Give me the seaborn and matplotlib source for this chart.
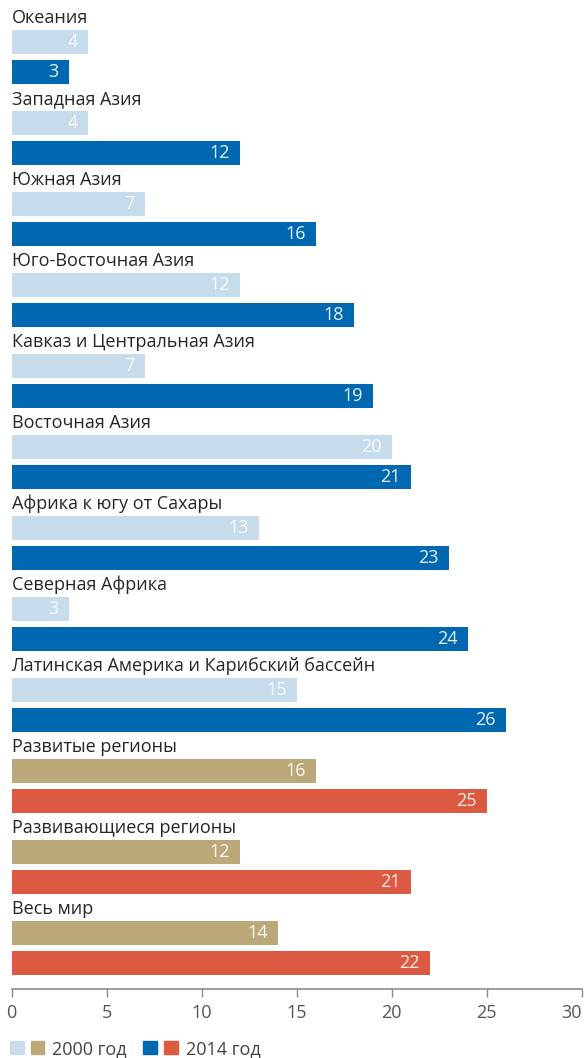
import numpy as np
import pandas as pd
import matplotlib
matplotlib.use('Agg')
import matplotlib.pyplot as plt
import seaborn as sns
from matplotlib.patches import Patch
from matplotlib.legend_handler import HandlerTuple

# %%
regions = ['Океания', 'Западная Азия', 'Южная Азия', 'Юго-Восточная Азия',
           'Кавказ и Центральная Азия', 'Восточная Азия', 'Африка к югу от Сахары',
           'Северная Африка', 'Латинская Америка и Карибский бассейн',
           'Развитые регионы', 'Развивающиеся регионы', 'Весь мир']
v2000 = [4, 4, 7, 12, 7, 20, 13, 3, 15, 16, 12, 14]
v2014 = [3, 12, 16, 18, 19, 21, 23, 24, 26, 25, 21, 22]
is_aggregate = [False] * 9 + [True] * 3
xticks = [0, 5, 10, 15, 20, 25, 30]
years = ['2000 год', '2014 год']

colors = {'reg2000': '#c6dcec', 'reg2014': '#0068b1',
          'agg2000': '#bba97a', 'agg2014': '#dd5a42'}

# %%
rows = []
for i, name in enumerate(regions):
    kind = 'agg' if is_aggregate[i] else 'reg'
    rows.append({'region': name, 'value': v2000[i], 'pos': 42 + 81 * i, 'key': kind + '2000'})
    rows.append({'region': name, 'value': v2014[i], 'pos': 72 + 81 * i, 'key': kind + '2014'})
df = pd.DataFrame(rows)

# %%
sns.set_style('white')
plt.rcParams['font.family'] = ['Open Sans', 'DejaVu Sans']

fig = plt.figure(figsize=(5.86, 10.58), dpi=100)
ax = fig.add_axes([11.5 / 586, 1 - 989 / 1058, 570 / 586, 989 / 1058])

sns.barplot(data=df, x='value', y='pos', hue='key', palette=colors, orient='h',
            native_scale=True, dodge=False, legend=False, width=0.8,
            saturation=1, linewidth=0, ax=ax)

ax.set_xlim(0, 30)
ax.set_ylim(989, 0)
ax.set_xticks(xticks)
ax.set_xticklabels([str(t) for t in xticks], fontsize=13, color='#555555')
ax.get_xticklabels()[-1].set_ha('right')
ax.tick_params(axis='x', direction='out', length=6, width=1, color='#8c8c8c', pad=5, bottom=True)
ax.set_yticks([])
ax.set_xlabel('')
ax.set_ylabel('')
for s in ['top', 'right', 'left']:
    ax.spines[s].set_visible(False)
ax.spines['bottom'].set_color('#8c8c8c')
ax.spines['bottom'].set_linewidth(1.2)

# category names above each pair
for i, name in enumerate(regions):
    ax.text(0, 18 + 81 * i, name, fontsize=13, color='#262626', va='center', ha='left')

# values inside bars
for _, r in df.iterrows():
    ax.annotate(str(r['value']), xy=(r['value'], r['pos']), xytext=(-7, 0),
                textcoords='offset points', ha='right', va='center',
                fontsize=13, color='white', alpha=0.9)

# legend
h2000 = (Patch(color=colors['reg2000']), Patch(color=colors['agg2000']))
h2014 = (Patch(color=colors['reg2014']), Patch(color=colors['agg2014']))
leg = fig.legend([h2000, h2014], years, ncol=2, frameon=False,
                 loc='center left', bbox_to_anchor=(10 / 586, 1 - 1049 / 1058),
                 handler_map={tuple: HandlerTuple(ndivide=None, pad=0.39)},
                 handlelength=1.9, handleheight=0.72, handletextpad=0.45,
                 columnspacing=0.9, borderpad=0, borderaxespad=0, fontsize=13)
for t in leg.get_texts():
    t.set_color('#444444')

fig.savefig('out.png', dpi=100)
